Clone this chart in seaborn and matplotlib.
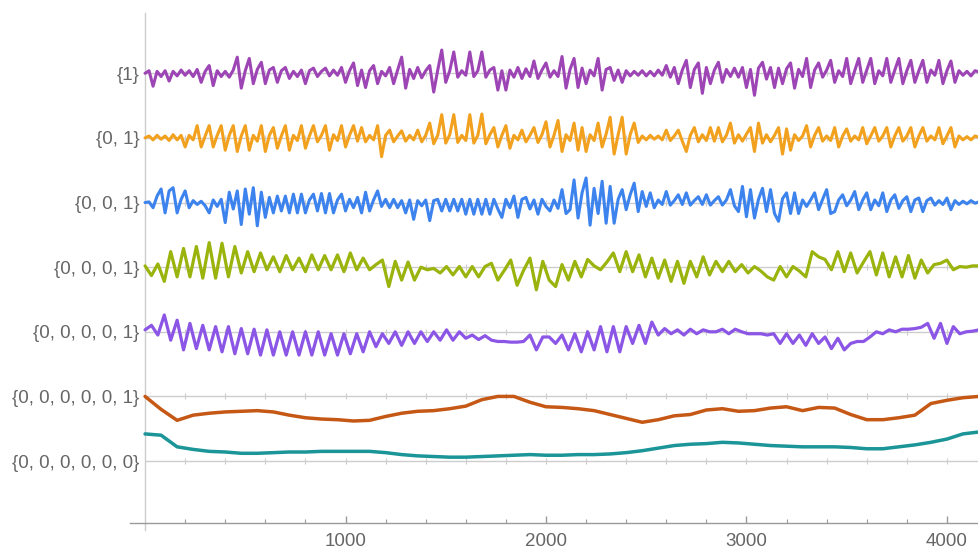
import numpy as np
import pandas as pd
import matplotlib
matplotlib.use("Agg")
import matplotlib.pyplot as plt
import seaborn as sns

# ---------------------------------------------------------------------------
# Data: each series is an offset from its own row baseline, in 1/100 of a row
# ---------------------------------------------------------------------------
X_END = 4160

row_labels = ["{1}", "{0, 1}", "{0, 0, 1}", "{0, 0, 0, 1}", "{0, 0, 0, 0, 1}",
              "{0, 0, 0, 0, 0, 1}", "{0, 0, 0, 0, 0, 0}"]
row_colors = ["#9d45b5", "#f2a11e", "#3d83ee", "#9bb30d", "#8b55e6",
              "#c65816", "#1b9598"]
line_widths = [2.2, 2.2, 2.2, 2.3, 2.3, 2.5, 2.5]

purple = [
    0, 4, -20, 3, -5, 4, -12, 3, -4, 5,
    -3, 4, -5, 6, -14, 3, 12, -19, 4, -5,
    3, -6, 5, 25, -23, 4, 23, -16, 6, 17,
    -16, 5, 9, -14, 4, 9, -8, 3, -5, 5,
    -16, 4, 8, -5, 3, 8, -4, 5, -3, 9,
    -14, 4, 16, -19, 5, -22, 4, 12, -16, 3,
    -4, 9, -16, 5, 25, -23, 6, -8, 9, -7,
    4, 12, -29, 5, 36, -14, 4, 33, -6, 4,
    -3, 33, -5, 4, 33, -6, 5, 9, -26, 4,
    -26, 5, -6, 9, -8, 7, -5, 19, -8, 5,
    16, -6, 4, -5, 26, -23, 6, 23, -22, 8,
    -16, 5, -4, 23, -26, 6, 9, -11, 5, -14,
    4, -4, 3, -3, 4, -4, 3, -4, 5, -3,
    12, -6, 9, -16, 5, 20, -22, 6, 16, -31,
    9, -16, 5, 17, -14, 6, -5, 8, -6, 9,
    -22, 6, -34, 8, 17, -9, 9, -22, 8, -16,
    7, 16, -23, 6, -5, 23, -22, 5, 16, -6,
    5, 20, -14, 4, -5, 23, -16, 4, 23, -14,
    5, 23, -16, 4, -4, 23, -14, 5, 23, -16,
    4, 20, -14, 4, 20, -14, 5, -3, 20, -16,
    4, 19, -14, 4, -3, 3, -4, 4, 2,
]

orange = [
    0, 3, -3, 4, -2, 3, -4, 5, -3, 4,
    -14, 4, -3, 19, -14, 3, 19, -14, 4, 19,
    -19, 4, 19, -21, 3, 19, -19, 4, -5, 19,
    -21, 4, 16, -16, 3, 19, -19, 4, -4, 19,
    -16, 3, 19, -6, 4, 19, -19, 5, -4, 19,
    -14, 4, 19, -5, 16, -6, 4, -3, 19, -29,
    4, 12, -6, 3, 11, -5, 4, -3, 12, -6,
    4, 23, -9, 4, 36, -8, 5, 36, -7, 4,
    -4, 36, -8, 4, 37, -9, 5, 16, -14, 4,
    19, -16, 4, -3, 12, -6, 4, 16, -7, 5,
    25, -14, 4, 27, -21, 5, -4, 23, -19, 16,
    -21, 5, -4, 23, -14, 6, 32, -25, 5, 32,
    -25, 5, 23, -7, 3, -3, 4, -2, 3, -3,
    12, -4, 3, 12, -5, -21, 4, 16, -6, 5,
    -4, 16, -5, 16, -6, 4, 23, -8, 5, -5,
    6, 16, -21, 23, -8, 5, -6, 4, 16, -25,
    14, -19, 5, -4, 3, 19, -14, 4, 16, -5,
    3, -4, 16, -14, 3, 14, -5, 3, -3, 16,
    -9, 3, 16, -5, 3, 16, -14, 3, 16, -5,
    3, 16, -14, 3, 16, -5, 3, -3, 16, -9,
    3, 16, -14, 3, -3, 2, -3, 3, 1,
]

blue = [
    0, 1, -8, 10, 21, -16, 18, 23, -16, 5,
    18, -8, 3, -3, 2, -5, -16, 4, -6, 5,
    -31, 16, -10, 18, -34, 21, -18, 23, -36, 16,
    -23, 8, -16, 10, -13, 10, -16, 13, -16, 13,
    -16, 4, 13, -13, 14, -16, 14, -16, 4, 13,
    -13, 5, -8, 8, -16, 16, -13, 4, 18, -6,
    5, -8, 5, -8, 3, -16, 4, -26, 3, -5,
    4, -28, 3, 5, -13, 5, -13, 5, -13, 5,
    -18, 5, -18, 5, -18, 5, -18, 5, -10, -23,
    5, -8, 10, -23, 5, 8, -10, 4, -18, 5,
    -6, -13, 4, -9, 20, -17, -11, 35, -24, 15,
    38, -35, 22, -17, 33, -32, 25, -32, 5, 20,
    -11, 12, 30, -14, 17, -6, 15, -8, 4, -3,
    17, -4, 3, 12, -3, 15, -4, 3, 9, -3,
    12, -4, 3, 9, -4, 4, 20, -5, -14, 25,
    -22, 20, -24, 5, 22, -14, 20, -17, -29, 6,
    15, -17, 15, -17, 4, -6, 4, 15, -11, 5,
    20, -17, -14, 4, 12, -5, 4, 17, -11, 4,
    15, -11, 4, -5, 15, -14, 4, 12, -9, 3,
    9, -14, 4, 7, -14, 3, 7, -4, 3, -3,
    7, -11, 3, -3, 2, -2, 3, -1, 1,
]

green = [
    2, -13, 5, -22, 24, -15, 29, -15, 32, -17,
    38, -17, 37, -15, 32, -9, 24, -7, 22, -4,
    16, -7, 18, -4, 14, -7, 19, -4, 18, -4,
    19, -7, 22, -4, 14, -4, 4, 11, -30, 9,
    -20, 8, -20, 0, -4, -2, -9, 1, -12, 1,
    -15, 1, -15, 1, 6, -20, -5, 11, -28, -5,
    14, -35, 9, -20, -30, 4, -20, 9, -15, 12,
    2, -4, 8, 22, -7, 24, -7, 19, -15, 14,
    -17, 11, -22, 9, -25, 9, -15, 16, -12, 9,
    -7, 9, -7, 4, -9, 1, -6, -15, -20, 1,
    -15, 1, -6, -15, 24, 16, 12, -4, 24, -7,
    22, -9, 8, 24, -12, 22, -15, 16, -15, 18,
    -17, 11, -9, 4, 6, 11, -4, 1, 0, 2, 2,
]

violet = [
    3, 10, -5, 26, -13, 18, -28, 13, -26, 10,
    -28, 8, -31, 8, -34, 5, -34, 4, -36, 3,
    -36, 0, -36, 0, -36, 0, -36, 0, -36, -3,
    -36, -3, -34, -3, -31, 0, -23, -3, -18, 0,
    -21, 0, -18, 0, -15, 0, -13, 3, -13, 0,
    -10, -5, -12, -6, -13, -15, -15, -16, -16, -15,
    -5, -28, -8, -8, -18, -5, -28, -3, -31, 0,
    -28, 8, -31, 8, -31, 8, -18, 10, -18, 15,
    -5, 5, -3, 3, -5, 4, -3, 3, 0, 0,
    4, -3, 4, 0, -3, -3, -3, -5, -3, -18,
    -3, -18, -5, -21, -3, -18, -8, -26, -10, -28,
    -18, -15, -15, -8, 0, -3, 3, 0, 4, 4,
    5, 7, 13, -10, 13, -18, 8, -3, 0, 1, 3,
]

rust = [
    0, -20, -37, -29, -26, -24, -23, -22, -24, -29,
    -33, -35, -36, -38, -37, -31, -26, -23, -22, -19,
    -15, -5, 0, 0, -9, -16, -17, -19, -22, -28,
    -34, -40, -36, -30, -28, -21, -19, -23, -22, -18,
    -16, -22, -17, -18, -28, -36, -36, -33, -29, -11,
    -6, -2, 0,
]

teal = [
    42, 40, 22, 18, 15, 14, 12, 12, 13, 14,
    14, 15, 15, 15, 15, 13, 10, 8, 7, 6,
    6, 7, 8, 9, 10, 9, 9, 10, 10, 11,
    13, 16, 20, 24, 26, 27, 29, 28, 26, 24,
    23, 22, 22, 22, 21, 19, 19, 22, 25, 29,
    34, 42, 45,
]

series = [purple, orange, blue, green, violet, rust, teal]

# ---------------------------------------------------------------------------
# Build long table: row k sits on baseline (n_rows - 1 - k)
# ---------------------------------------------------------------------------
n_rows = len(series)
frames = []
for k, vals in enumerate(series):
    base = n_rows - 1 - k
    frames.append(pd.DataFrame({
        "x": np.linspace(0, X_END, len(vals)),
        "y": base + np.asarray(vals) / 100.0,
        "row": row_labels[k],
    }))
df = pd.concat(frames, ignore_index=True)

# ---------------------------------------------------------------------------
# Plot
# ---------------------------------------------------------------------------
sns.set_theme(style="white")
plt.rcParams["font.family"] = ["Liberation Sans", "DejaVu Sans"]

fig = plt.figure(figsize=(9.79, 5.5), dpi=100)
ax = fig.add_axes([0.1328, 0.036, 0.8672, 0.94])

grid_color = "#cdcdcd"
baselines = np.arange(n_rows)
ax.hlines(baselines, 0, X_END, color=grid_color, lw=1.0, zorder=1)

# small tick marks Mathematica draws along the grid lines
tick_x = np.arange(200, X_END, 200)
for b in baselines:
    ax.plot(tick_x, np.full(len(tick_x), b), ls="none", marker="|",
            ms=4, mew=0.8, color=grid_color, zorder=1)

for k, label in enumerate(row_labels):
    sub = df[df["row"] == label]
    sns.lineplot(data=sub, x="x", y="y", color=row_colors[k],
                 linewidth=line_widths[k], estimator=None, sort=False,
                 ax=ax, zorder=3)

ax.set_xlim(-75, X_END)
ax.set_ylim(-1.07, 6.93)
ax.set_xlabel("")
ax.set_ylabel("")

ax.spines["top"].set_visible(False)
ax.spines["right"].set_visible(False)
ax.spines["left"].set_position(("data", 0))
ax.spines["bottom"].set_position(("data", -0.96))
ax.spines["left"].set_color("#cccccc")
ax.spines["left"].set_linewidth(1.0)
ax.spines["bottom"].set_color("#9a9a9a")
ax.spines["bottom"].set_linewidth(1.0)

ax.set_xticks([1000, 2000, 3000, 4000])
ax.set_xticks([v for v in tick_x if v % 1000], minor=True)
ax.set_yticks(baselines)
ax.set_yticklabels(row_labels[::-1])

ax.tick_params(axis="x", which="major", direction="in", length=5, width=1,
               color="#9a9a9a", labelsize=13.5, labelcolor="#666666", pad=7,
               bottom=True)
ax.tick_params(axis="x", which="minor", direction="in", length=3, width=0.8,
               color="#9a9a9a", bottom=True)
ax.tick_params(axis="y", length=0, labelsize=13.5, labelcolor="#666666", pad=4)
ax.grid(False)

fig.savefig("out.png", dpi=100)
plt.close(fig)
